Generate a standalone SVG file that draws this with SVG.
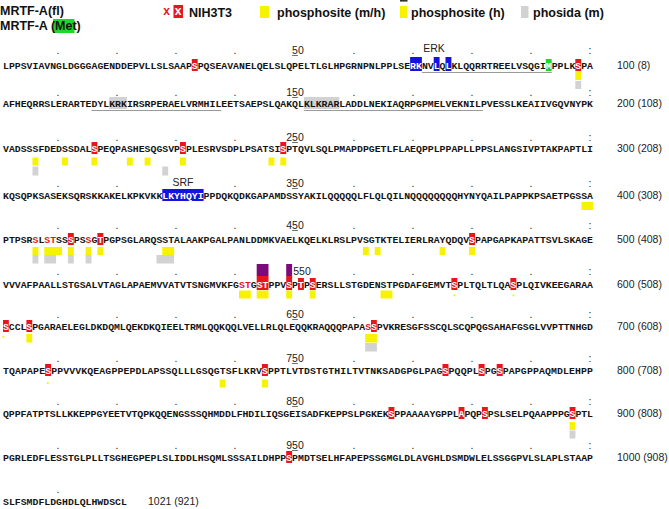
<svg xmlns="http://www.w3.org/2000/svg" width="669" height="509" viewBox="0 0 669 509">
<style>
.seq{font-family:"Liberation Mono","Courier New",monospace;font-size:9.83px;font-weight:bold;fill:#141414}
.num{font-family:"Liberation Sans",Arial,sans-serif;font-size:10.5px;fill:#222}
.mid{text-anchor:middle}
.dot{font-family:"Liberation Sans",Arial,sans-serif;font-size:10.5px;fill:#222;text-anchor:middle}
.leg{font-family:"Liberation Sans",Arial,sans-serif;font-size:12.5px;font-weight:bold;fill:#111}
.w{fill:#fff}
.r{fill:#e8161c}
.rb{fill:#e8161c}
.yb{fill:#f7f200}
.gb{fill:#d2d2d2}
.bb{fill:#1414dc}
.pb{fill:#7a0b78}
.gn{fill:#1fd62a}
.ul{stroke:#9a9a9a;stroke-width:1}
.nu{stroke:#333;stroke-width:0.7}
</style>
<rect width="669" height="509" fill="#fff"/>

<g id="legend">
<text class="leg" x="0" y="14.5">MRTF-A(fl)</text>
<rect class="gn" x="53" y="19" width="21.5" height="14"/>
<text class="leg" x="0" y="30">MRTF-A (Met)</text>
<text x="163" y="15" style="font-family:'Liberation Mono',monospace;font-size:12px;font-weight:bold" class="r">x</text>
<rect class="rb" x="173.5" y="5" width="9.5" height="13"/>
<text x="174.5" y="15" style="font-family:'Liberation Mono',monospace;font-size:12px;font-weight:bold" class="w">x</text>
<text class="leg" x="189" y="17">NIH3T3</text>
<rect class="yb" x="260" y="6" width="9" height="12"/>
<text class="leg" x="277" y="17">phosphosite (m/h)</text>
<rect x="400" y="0" width="7.5" height="1.6" fill="#333"/>
<rect class="yb" x="400" y="6" width="7.5" height="12"/>
<text class="leg" x="411" y="17">phosphosite (h)</text>
<rect class="gb" x="521" y="6" width="7.5" height="12"/>
<text class="leg" x="533" y="17">phosida (m)</text>
</g>

<g id="row1">
<rect class="bb" x="410.1" y="57" width="11.8" height="14"/>
<rect class="bb" x="433.7" y="57" width="5.9" height="14"/>
<rect class="bb" x="445.5" y="57" width="5.9" height="14"/>
<rect class="rb" x="191.8" y="59" width="5.9" height="12"/>
<rect class="gn" x="545.8" y="59" width="5.9" height="12"/>
<rect class="rb" x="575.3" y="59" width="5.9" height="12"/>
<rect class="yb" x="575.3" y="71" width="5.9" height="9"/>
<rect class="gb" x="575.3" y="81" width="5.9" height="8"/>
<line class="ul" x1="421.9" y1="72.5" x2="551.7" y2="72.5"/>
<text class="dot" x="58 117 176 235" y="54">....</text>
<text class="dot" x="354 413" y="54">..</text>
<text class="dot" x="472 531 590" y="54">..:</text>
<text class="num" x="292.1" y="54">50</text>
<line class="nu" x1="292.1" y1="55.5" x2="297.9" y2="55.5"/>
<text class="num mid" x="434" y="52">ERK</text>
<text class="seq" x="3" y="69" textLength="590" lengthAdjust="spacing">LPPSVIAVNGLDGGGAGENDDEPVLLSLSAAP<tspan class="w">S</tspan>PQSEAVANELQELSLQPELTLGLHPGRNPNLPPLSE<tspan class="w">RK</tspan>NV<tspan class="w">L</tspan>Q<tspan class="w">L</tspan>KLQQRRTREELVSQGI<tspan class="w">M</tspan>PPLK<tspan class="w">S</tspan>PA</text>
<text class="num" x="617" y="69">100 (8)</text>
</g>

<g id="row2">
<rect class="gb" x="109.2" y="97" width="17.7" height="12"/>
<rect class="gb" x="303.9" y="97" width="35.4" height="12"/>
<line class="ul" x1="91.5" y1="110.5" x2="221.3" y2="110.5"/>
<line class="ul" x1="303.9" y1="110.5" x2="483" y2="110.5"/>
<text class="dot" x="58 117 176 235" y="96">....</text>
<text class="dot" x="354 413 472 531 590" y="96">....:</text>
<text class="num mid" x="295" y="96">150</text>
<line class="nu" x1="292.1" y1="97.5" x2="297.9" y2="97.5"/>
<text class="seq" x="3" y="107" textLength="590" lengthAdjust="spacing">AFHEQRRSLERARTEDYLKRKIRSRPERAELVRMHILEETSAEPSLQAKQLKLKRARLADDLNEKIAQRPGPMELVEKNILPVESSLKEAIIVGQVNYPK</text>
<text class="num" x="617" y="107">200 (108)</text>
</g>

<g id="row3">
<rect class="rb" x="91.5" y="142" width="5.9" height="12"/>
<rect class="rb" x="180" y="142" width="5.9" height="12"/>
<rect class="rb" x="280.3" y="142" width="5.9" height="12"/>
<rect class="yb" x="32.5" y="157.5" width="5.9" height="8"/>
<rect class="yb" x="62" y="157.5" width="5.9" height="8"/>
<rect class="yb" x="91.5" y="157.5" width="5.9" height="8"/>
<rect class="yb" x="126.9" y="157.5" width="5.9" height="8"/>
<rect class="yb" x="144.6" y="157.5" width="5.9" height="8"/>
<rect class="yb" x="180" y="157.5" width="5.9" height="8"/>
<rect class="yb" x="268.5" y="157.5" width="5.9" height="8"/>
<rect class="yb" x="280.3" y="157.5" width="5.9" height="8"/>
<rect class="gb" x="32.5" y="166.5" width="5.9" height="9"/>
<rect class="gb" x="162.3" y="166.5" width="5.9" height="9"/>
<text class="dot" x="58 117 176 235" y="141">....</text>
<text class="dot" x="354 413 472 531 590" y="141">....:</text>
<text class="num mid" x="295" y="141">250</text>
<line class="nu" x1="292.1" y1="142.5" x2="297.9" y2="142.5"/>
<text class="seq" x="3" y="152" textLength="590" lengthAdjust="spacing">VADSSSFDEDSSDAL<tspan class="w">S</tspan>PEQPASHESQGSVP<tspan class="w">S</tspan>PLESRVSDPLPSATSI<tspan class="w">S</tspan>PTQVLSQLPMAPDPGETLFLAEQPPLPPAPLLPPSLANGSIVPTAKPAPTLI</text>
<text class="num" x="617" y="152">300 (208)</text>
</g>

<g id="row4">
<rect class="bb" x="162.3" y="189" width="41.3" height="12"/>
<rect class="yb" x="581.5" y="202" width="11.5" height="8"/>
<text class="dot" x="58 117" y="187">..</text>
<text class="dot" x="235" y="187">.</text>
<text class="dot" x="354 413 472 531 590" y="187">....:</text>
<text class="num mid" x="295" y="187">350</text>
<line class="nu" x1="292.1" y1="188.5" x2="297.9" y2="188.5"/>
<text class="num mid" x="183" y="186">SRF</text>
<text class="seq" x="3" y="199" textLength="590" lengthAdjust="spacing">KQSQPKSASEKSQRSKKAKELKPKVKK<tspan class="w">LKYHQYI</tspan>PPDQKQDKGAPAMDSSYAKILQQQQQLFLQLQILNQQQQQQQQHYNYQAILPAPPKPSAETPGSSA</text>
<text class="num" x="617" y="199">400 (308)</text>
</g>

<g id="row5">
<rect class="rb" x="67.9" y="233" width="5.9" height="12"/>
<rect class="rb" x="97.4" y="233" width="5.9" height="12"/>
<rect class="rb" x="469.1" y="233" width="5.9" height="12"/>
<rect class="yb" x="32.5" y="247" width="5.9" height="8"/>
<rect class="yb" x="44.3" y="247" width="17.7" height="8"/>
<rect class="yb" x="67.9" y="247" width="5.9" height="8"/>
<rect class="yb" x="85.6" y="247" width="5.9" height="8"/>
<rect class="yb" x="97.4" y="247" width="5.9" height="8"/>
<rect class="yb" x="162.3" y="247" width="11.8" height="8"/>
<rect class="yb" x="362.9" y="247" width="5.9" height="8"/>
<rect class="yb" x="374.7" y="247" width="5.9" height="8"/>
<rect class="yb" x="439.6" y="247" width="5.9" height="8"/>
<rect class="yb" x="469.1" y="247" width="5.9" height="8"/>
<rect class="gb" x="32.5" y="255" width="5.9" height="8.5"/>
<rect class="gb" x="44.3" y="255" width="11.8" height="8.5"/>
<rect class="gb" x="67.9" y="255" width="5.9" height="8.5"/>
<rect class="gb" x="85.6" y="255" width="5.9" height="8.5"/>
<rect class="gb" x="156.5" y="255" width="17.6" height="8.5"/>
<text class="dot" x="58 117 176 235" y="229">....</text>
<text class="dot" x="354 413 472 531 590" y="229">....:</text>
<text class="num mid" x="295" y="229">450</text>
<line class="nu" x1="292.1" y1="230.5" x2="297.9" y2="230.5"/>
<text class="seq" x="3" y="243" textLength="590" lengthAdjust="spacing">PTPSR<tspan class="r">S</tspan>L<tspan class="r">ST</tspan>SS<tspan class="w">S</tspan>PS<tspan class="r">S</tspan>G<tspan class="w">T</tspan>PGPSGLARQSSTALAAKPGALPANLDDMKVAELKQELKLRSLPVSGTKTELIERLRAYQDQV<tspan class="w">S</tspan>PAPGAPKAPATTSVLSKAGE</text>
<text class="num" x="617" y="243">500 (408)</text>
</g>

<g id="row6">
<rect class="pb" x="256.7" y="264" width="11.8" height="12"/>
<rect class="pb" x="286.2" y="264" width="5.9" height="12"/>
<rect class="rb" x="256.7" y="276" width="11.8" height="14"/>
<rect class="rb" x="286.2" y="276" width="5.9" height="14"/>
<rect class="rb" x="298" y="278" width="5.9" height="12"/>
<rect class="rb" x="309.8" y="278" width="5.9" height="12"/>
<rect class="rb" x="451.4" y="278" width="5.9" height="12"/>
<rect class="rb" x="510.4" y="278" width="5.9" height="12"/>
<rect class="yb" x="239" y="290.5" width="11.8" height="8"/>
<rect class="yb" x="256.7" y="290.5" width="11.8" height="8"/>
<rect class="yb" x="286.2" y="290.5" width="5.9" height="8"/>
<rect class="yb" x="309.8" y="290.5" width="5.9" height="8"/>
<rect class="yb" x="380.6" y="290.5" width="11.8" height="8"/>
<rect class="yb" x="453.5" y="294.5" width="1.8" height="1.8"/>
<rect class="yb" x="512.5" y="294.5" width="1.8" height="1.8"/>
<text class="dot" x="58 117 176 235" y="275">....</text>
<text class="dot" x="354 413 472 531 590" y="275">....:</text>
<text class="num mid" x="302" y="275">550</text>
<text class="seq" x="3" y="288" textLength="590" lengthAdjust="spacing">VVVAFPAALLSTGSALVTAGLAPAEMVVATVTSNGMVKFG<tspan class="r">ST</tspan>G<tspan class="w">ST</tspan>PPV<tspan class="w">S</tspan>P<tspan class="w">T</tspan>P<tspan class="w">S</tspan>ERSLLSTGDENSTPGDAFGEMVT<tspan class="w">S</tspan>PLTQLTLQA<tspan class="w">S</tspan>PLQIVKEEGARAA</text>
<text class="num" x="617" y="288">600 (508)</text>
</g>

<g id="row7">
<rect class="rb" x="3" y="320" width="5.84" height="12"/>
<rect class="rb" x="26.4" y="320" width="5.84" height="12"/>
<rect class="rb" x="371" y="320" width="5.84" height="12"/>
<rect class="yb" x="2.5" y="336" width="1.8" height="1.8"/>
<rect class="yb" x="26.4" y="334" width="5.84" height="8.5"/>
<rect class="yb" x="365.2" y="334" width="11.7" height="8.5"/>
<rect class="gb" x="365.2" y="343" width="11.7" height="8.5"/>
<text class="dot" x="58 117 176 235" y="318">....</text>
<text class="dot" x="354 413 472 531 590" y="318">....:</text>
<text class="num mid" x="295" y="318">650</text>
<line class="nu" x1="292.1" y1="319.5" x2="297.9" y2="319.5"/>
<text class="seq" x="3" y="330" textLength="590" lengthAdjust="spacing"><tspan class="w">S</tspan>CCL<tspan class="w">S</tspan>PGARAELEGLDKDQMLQEKDKQIEELTRMLQQKQQLVELLRLQLEQQKRAQQQPAPA<tspan class="r">S</tspan><tspan class="w">S</tspan>PVKRESGFSSCQLSCQPQGSAHAFGSGLVVPTTNHGD</text>
<text class="num" x="617" y="330">700 (608)</text>
</g>

<g id="row8">
<rect class="rb" x="45.1" y="364" width="6" height="12"/>
<rect class="rb" x="261.9" y="364" width="6" height="12"/>
<rect class="rb" x="442.5" y="364" width="6" height="12"/>
<rect class="rb" x="478.6" y="364" width="6" height="12"/>
<rect class="rb" x="496.7" y="364" width="6" height="12"/>
<rect class="yb" x="47" y="382" width="1.8" height="1.8"/>
<rect class="yb" x="219.7" y="379.5" width="6" height="8"/>
<rect class="yb" x="261.9" y="379.5" width="6" height="8"/>
<text class="dot" x="58 117 176 235" y="362">....</text>
<text class="dot" x="354 413 472 531 590" y="362">....:</text>
<text class="num mid" x="295" y="362">750</text>
<line class="nu" x1="292.1" y1="363.5" x2="297.9" y2="363.5"/>
<text class="seq" x="3" y="374" textLength="590" lengthAdjust="spacing">TQAPAPE<tspan class="w">S</tspan>PPVVVKQEAGPPEPDLAPSSQLLLGSQGTSFLKRV<tspan class="w">S</tspan>PPTLVTDSTGTHILTVTNKSADGPGLPAG<tspan class="w">S</tspan>PQQPL<tspan class="w">S</tspan>PG<tspan class="w">S</tspan>PAPGPPAQMDLEHPP</text>
<text class="num" x="617" y="374">800 (708)</text>
</g>

<g id="row9">
<rect class="rb" x="388.5" y="407" width="5.84" height="12"/>
<rect class="rb" x="458.6" y="407" width="5.84" height="12"/>
<rect class="rb" x="482" y="407" width="5.84" height="12"/>
<rect class="rb" x="569.6" y="407" width="5.84" height="12"/>
<rect class="yb" x="569.6" y="422" width="5.84" height="8"/>
<rect class="gb" x="569.6" y="430.5" width="5.84" height="8"/>
<text class="dot" x="58 117 176 235" y="405">....</text>
<text class="dot" x="354 413 472 531 590" y="405">....:</text>
<text class="num mid" x="295" y="405">850</text>
<line class="nu" x1="292.1" y1="406.5" x2="297.9" y2="406.5"/>
<text class="seq" x="3" y="417" textLength="590" lengthAdjust="spacing">QPPFATPTSLLKKEPPGYEETVTQPKQQENGSSSQHMDDLFHDILIQSGEISADFKEPPSLPGKEK<tspan class="w">S</tspan>PPAAAAYGPPL<tspan class="w">A</tspan>PQP<tspan class="w">S</tspan>PSLSELPQAAPPPG<tspan class="w">S</tspan>PTL</text>
<text class="num" x="617" y="417">900 (808)</text>
</g>

<g id="row10">
<rect class="rb" x="286.2" y="451" width="5.9" height="12"/>
<text class="dot" x="58 117 176 235" y="449">....</text>
<text class="dot" x="354 413 472 531 590" y="449">....:</text>
<text class="num mid" x="295" y="449">950</text>
<line class="nu" x1="292.1" y1="450.5" x2="297.9" y2="450.5"/>
<text class="seq" x="3" y="461" textLength="590" lengthAdjust="spacing">PGRLEDFLESSTGLPLLTSGHEGPEPLSLIDDLHSQMLSSSAILDHPP<tspan class="w">S</tspan>PMDTSELHFAPEPSSGMGLDLAVGHLDSMDWLELSSGGPVLSLAPLSTAAP</text>
<text class="num" x="617" y="461">1000 (908)</text>
</g>

<g id="row11">
<text class="dot" x="58" y="493">.</text>
<text class="seq" x="3" y="505">SLFSMDFLDGHDLQLHWDSCL</text>
<text class="num" x="148" y="505">1021 (921)</text>
</g>
</svg>
